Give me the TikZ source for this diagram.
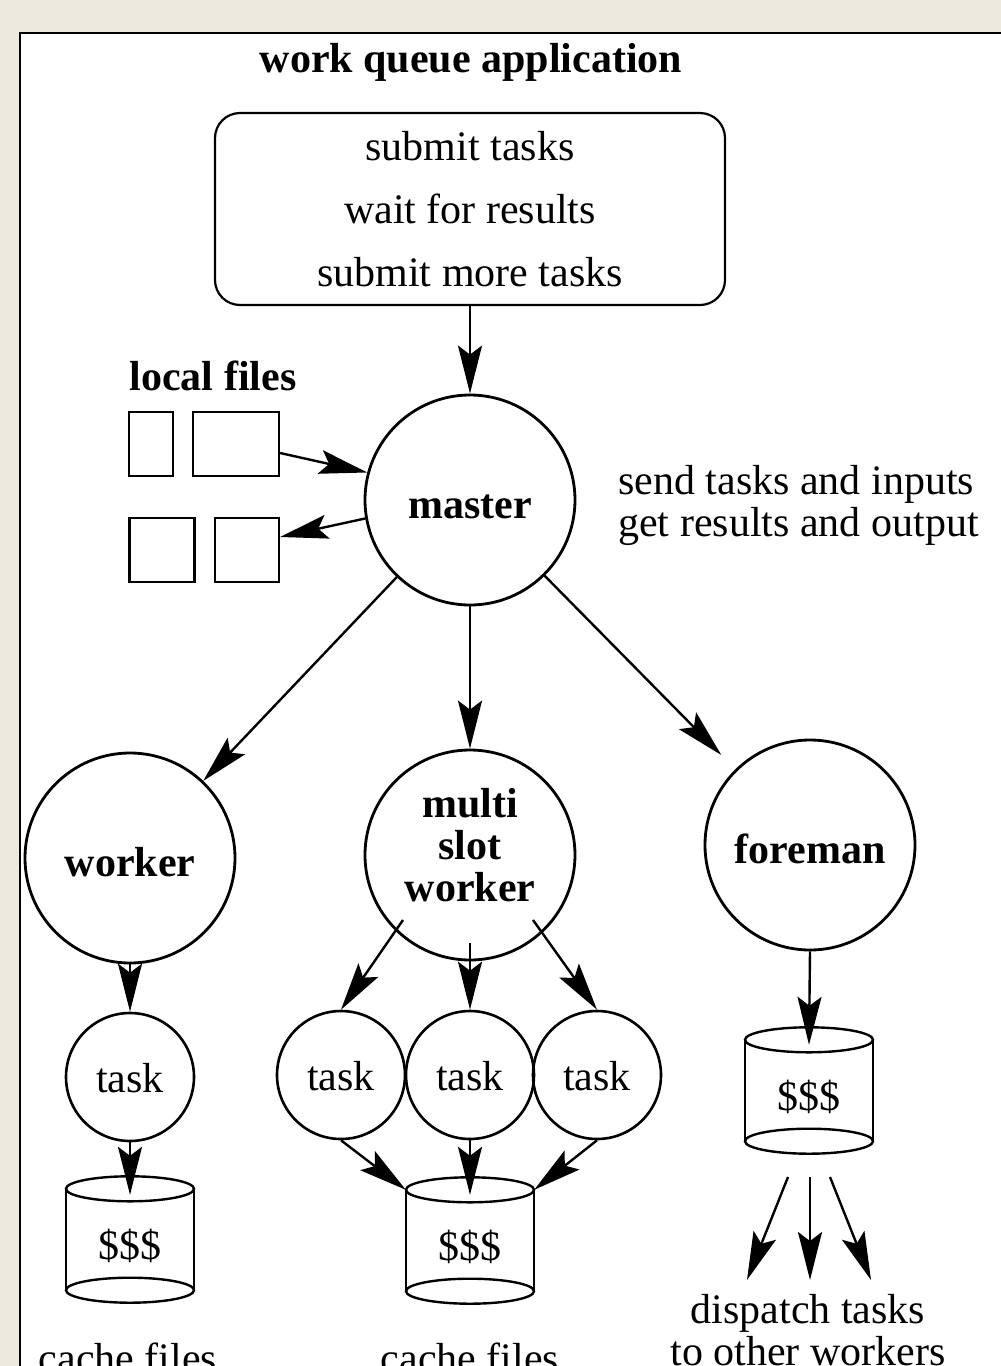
\documentclass[tikz,border=0pt]{standalone}
\usepackage{fontspec}
\setmainfont{Liberation Serif}
\usetikzlibrary{arrows.meta,calc}
\definecolor{bgbeige}{HTML}{ECE9DF}
\tikzset{
  txt/.style={inner sep=0pt, font=\fontsize{42}{42}\selectfont},
  bigc/.style={circle, draw, line width=2.8pt, inner sep=0pt, minimum size=210pt,
    font=\bfseries\fontsize{42}{42}\selectfont, text height=36pt, text depth=0pt},
  taskc/.style={circle, draw, line width=2.6pt, inner sep=0pt, minimum size=128pt,
    font=\fontsize{42}{42}\selectfont, text height=30pt, text depth=0pt},
  filebox/.style={draw, line width=2.2pt, inner sep=0pt},
  cylbody/.style={inner sep=0pt, minimum width=128pt, minimum height=101pt,
    font=\fontsize{42}{42}\selectfont, text height=39pt, text depth=0pt},
  cylline/.style={line width=2.4pt},
  arr/.style={line width=2.4pt, -{Stealth[length=48pt,width=24pt,inset=9pt]}},
}
\newcommand{\drawcyl}[1]{%
  \draw[cylline] (#1.north west) -- (#1.south west) (#1.north east) -- (#1.south east);
  \draw[cylline] (#1.north) ellipse [x radius=64pt, y radius=12.5pt];
  \draw[cylline] (#1.south) ellipse [x radius=64pt, y radius=12.5pt];}
\begin{document}
\begin{tikzpicture}[x=1pt,y=-1pt]
\useasboundingbox (0,0) rectangle (1001,1366);
\fill[bgbeige] (0,0) rectangle (1001,1366);
\fill[white] (20,33) rectangle (1001,1366);
\draw[line width=2.5pt] (20,1366) -- (20,33) -- (1001,33);

% title
\node[txt, font=\bfseries\fontsize{42}{42}\selectfont, anchor=base] (title) at (471,72) {work queue application};

% application box
\node[draw, line width=2.2pt, rounded corners=25pt, minimum width=510pt, minimum height=192pt,
  align=center, inner sep=0pt, font=\fontsize{42}{63}\selectfont] (app) at (470,209)
  {submit tasks\\wait for results\\submit more tasks};

% master
\node[bigc] (master) at (470,500) {master};

% local files
\node[txt, font=\bfseries\fontsize{42}{42}\selectfont, anchor=base] (lf) at (213,390) {local files};
\node[filebox, minimum width=44pt, minimum height=64pt] (f1) at (151,444) {};
\node[filebox, minimum width=86pt, minimum height=64pt] (f2) at (236,444) {};
\node[filebox, minimum width=65pt, minimum height=64pt] (f3) at (162,550) {};
\node[filebox, minimum width=64pt, minimum height=64pt] (f4) at (247,550) {};

\draw[arr] ($(f2.east)+(0,9)$) -- (master.165);
\draw[arr] (master.190) -- ($(f4.east)+(0,-13)$);

% side text
\node[txt, align=left, anchor=north west, font=\fontsize{42}{42}\selectfont] (st) at (618,465)
  {send tasks and inputs\\get results and output};

% application -> master
\draw[arr] (app.south) -- (master.north);

% second level
\node[bigc] (worker) at (130,858) {worker};
\node[bigc, align=center, font=\bfseries\fontsize{42}{42}\selectfont, text height=92pt] (multi) at (470,855) {multi\\slot\\worker};
\node[bigc] (foreman) at (810,845) {foreman};

\draw[arr] (master) -- (worker);
\draw[arr] (master.south) -- (multi.north);
\draw[arr, shorten >=20pt] (master) -- (foreman);

% worker branch
\node[taskc] (wt) at (130,1077) {task};
\node[cylbody] (c1) at (130,1239.5) {\$\$\$};
\drawcyl{c1}
\draw[arr] (worker.south) -- (wt.north);
\draw[arr] (wt.south) -- ($(c1.north)+(0,6)$);

% multi slot branch
\node[taskc] (t1) at (341,1075) {task};
\node[taskc] (t2) at (470,1075) {task};
\node[taskc] (t3) at (597,1075) {task};
\coordinate (ms1) at (403,920);
\coordinate (ms2) at (470,943);
\coordinate (ms3) at (533,920);
\draw[arr] (ms1) -- (t1.north);
\draw[arr] (ms2) -- (t2.north);
\draw[arr] (ms3) -- (t3.north);
\node[cylbody] (c2) at (470,1240.5) {\$\$\$};
\drawcyl{c2}
\draw[arr] (t1.south) -- (c2.north west);
\draw[arr] (t2.south) -- ($(c2.north)+(0,5)$);
\draw[arr] (t3.south) -- (c2.north east);

% foreman branch
\node[cylbody] (c3) at (809,1090.5) {\$\$\$};
\drawcyl{c3}
\draw[arr] (foreman.south) -- ($(c3.north)+(0,5)$);
\coordinate (d1s) at (788,1177);
\coordinate (d2s) at (810,1177);
\coordinate (d3s) at (830,1177);
\coordinate (d1e) at (747,1280);
\coordinate (d2e) at (810,1280);
\coordinate (d3e) at (871,1280);
\draw[arr] (d1s) -- (d1e);
\draw[arr] (d2s) -- (d2e);
\draw[arr] (d3s) -- (d3e);

% captions
\node[txt, align=center, anchor=north] (disp) at (808,1294) {dispatch tasks\\to other workers};
\node[txt, anchor=base] (cf1) at (128,1372) {cache files};
\node[txt, anchor=base] (cf2) at (470,1372) {cache files};
\end{tikzpicture}
\end{document}
